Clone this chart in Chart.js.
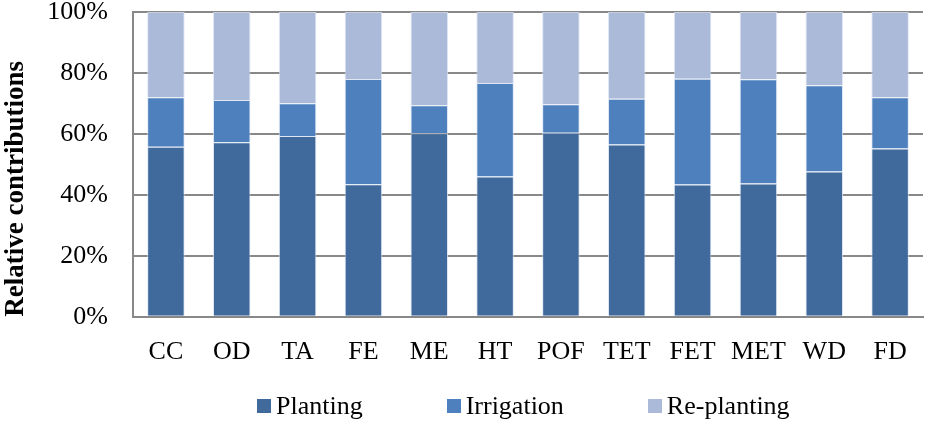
<!DOCTYPE html>
<html>
<head>
<meta charset="utf-8">
<script src="https://cdn.jsdelivr.net/npm/chart.js@4"></script>
<style>
    body { margin: 0; background: #fff; }
    #wrap { position: relative; width: 927px; height: 423px; }
    #legend {
        position: absolute; left: 257px; top: 391px; height: 30px;
        display: flex; align-items: center;
        font-family: "Liberation Serif", "Times New Roman", serif; font-size: 26px; color: #000;
    }
    #legend .item { display: flex; align-items: center; margin-right: 84px; }
    #legend .item:last-child { margin-right: 0; }
    #legend .box { width: 14px; height: 14px; margin-right: 5px; }
</style>
</head>
<body>
<div id="wrap">
    <canvas id="bar-chart-stacked" width="927" height="423"></canvas>
    <div id="legend"></div>
</div>
<script>
// contribution (%) of each phase per scenario
let categories = ["CC", "OD", "TA", "FE", "ME", "HT", "POF", "TET", "FET", "MET", "WD", "FD"];
let planting   = [55.8, 57.3, 59.3, 43.5, 60.2, 46.0, 60.4, 56.5, 43.4, 43.7, 47.7, 55.2];
let irrigation = [16.2, 13.8, 10.8, 34.5,  9.2, 30.7,  9.3, 15.0, 34.7, 34.2, 28.3, 16.8];
let replanting = [28.0, 28.9, 29.9, 22.0, 30.6, 23.3, 30.3, 28.5, 21.9, 22.1, 24.0, 28.0];
let yTicks = [0, 20, 40, 60, 80, 100];

const serif = "'Liberation Serif', 'Times New Roman', serif";

// html legend under the chart
const htmlLegend = {
    id: 'htmlLegend',
    afterUpdate(chart) {
        let box = document.getElementById('legend');
        box.innerHTML = '';
        chart.data.datasets.forEach(function (ds) {
            let item = document.createElement('div');
            item.className = 'item';
            let sw = document.createElement('span');
            sw.className = 'box';
            sw.style.background = ds.backgroundColor;
            let txt = document.createElement('span');
            txt.textContent = ds.label;
            item.appendChild(sw);
            item.appendChild(txt);
            box.appendChild(item);
        });
    }
};

let ctx = document.getElementById("bar-chart-stacked").getContext("2d");
new Chart(ctx, {
    type: 'bar',
    data: {
        labels: categories,
        datasets: [{
            label: "Planting",
            backgroundColor: "#3f6a9b",
            data: planting
        }, {
            label: "Irrigation",
            backgroundColor: "#4e80bd",
            data: irrigation
        }, {
            label: "Re-planting",
            backgroundColor: "#abbad8",
            data: replanting
        }]
    },
    options: {
        responsive: false,
        animation: false,
        layout: { padding: { top: 12, right: 4, bottom: 43, left: 0 } },
        datasets: {
            bar: {
                categoryPercentage: 1,
                barPercentage: 0.57,
                borderWidth: 1,
                borderColor: 'rgba(215,225,242,0.8)'
            }
        },
        plugins: {
            legend: { display: false },
            tooltip: { enabled: false }
        },
        scales: {
            x: {
                stacked: true,
                grid: { display: false },
                border: { display: true, color: '#888', width: 2 },
                ticks: {
                    color: '#000',
                    padding: 12,
                    font: { family: serif, size: 26 }
                }
            },
            y: {
                stacked: true,
                min: 0,
                max: 100,
                afterBuildTicks: function (scale) {
                    scale.ticks = yTicks.map(function (v) { return { value: v }; });
                },
                afterFit: function (scale) {
                    scale.width = 133;
                    scale.paddingTop = 0;
                    scale.paddingBottom = 0;
                },
                grid: { color: '#888', lineWidth: 2, drawTicks: false },
                border: { display: true, color: '#888', width: 2 },
                ticks: {
                    color: '#000',
                    padding: 25,
                    font: { family: serif, size: 26 },
                    callback: function (v) { return v + '%'; }
                },
                title: {
                    display: true,
                    text: 'Relative contributions',
                    align: 'start',
                    color: '#000',
                    padding: 0,
                    font: { family: serif, size: 27, weight: 'bold' }
                }
            }
        }
    },
    plugins: [htmlLegend]
});
</script>
</body>
</html>
